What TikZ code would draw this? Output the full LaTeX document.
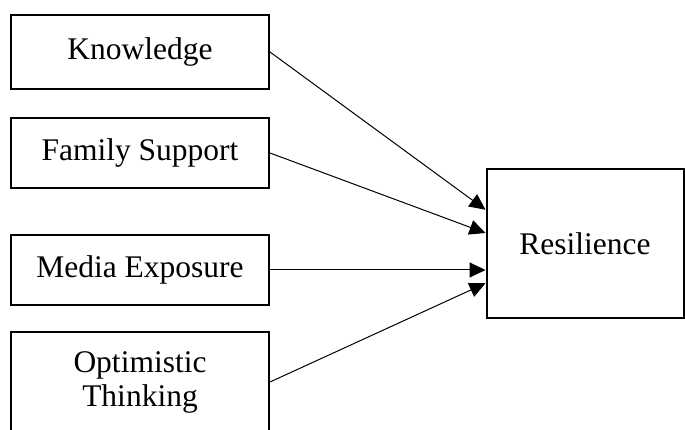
\documentclass[tikz,border=0pt]{standalone}
\usepackage{fontspec}
\setmainfont{Liberation Serif}
\usepackage{tikz}
\usetikzlibrary{arrows.meta,calc}
\tikzstyle{factor}=[draw,line width=2pt,minimum width=258pt,inner sep=0pt,align=center]
\tikzstyle{arrow}=[-{Triangle[length=16pt,width=15pt]},line width=1pt]

\begin{document}
\begin{tikzpicture}[x=1pt,y=-1pt,font=\fontsize{31.5}{34}\selectfont]

	\clip (0,0) rectangle (685,430);

	%predictors
	\node[factor,minimum height=74pt] (know) at (140,52) {Knowledge};
	\node[factor,minimum height=70pt] (fam) at (140,153) {Family Support};
	\node[factor,minimum height=70pt] (media) at (140,270) {Media Exposure};
	\node[factor,minimum height=100pt] (optim) at (140,382) {Optimistic\\Thinking};

	%outcome
	\node[factor,minimum width=197pt,minimum height=148pt] (res) at (585,243.5) {Resilience};

	\draw[arrow] (know.east) -- ($(res.north west)!0.275!(res.south west)$);
	\draw[arrow] (fam.east) -- ($(res.north west)!0.43!(res.south west)$);
	\draw[arrow] (media.east) -- (media.east -| res.west);
	\draw[arrow] (optim.east) -- ($(res.north west)!0.765!(res.south west)$);
\end{tikzpicture}
\end{document}
